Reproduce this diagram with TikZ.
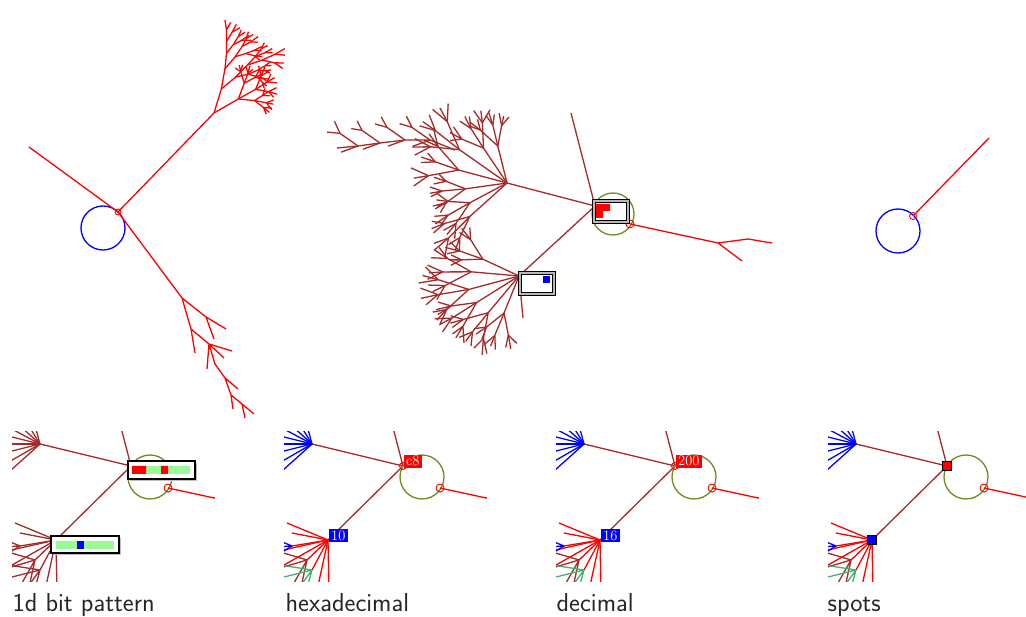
\documentclass[tikz,border=0pt]{standalone}
\usepackage{fontspec}
\definecolor{tbrown}{RGB}{165,42,42}
\definecolor{tgreen}{RGB}{107,142,35}
\definecolor{pgreen}{RGB}{152,251,152}
\definecolor{sgreen}{RGB}{60,179,113}
\def\tAngles{-30,0,30}\def\tR{0.6}\def\tJ{6}
% recursive fractal branch: x y angle length depth
\newcommand\ftree[5]{%
  \pgfmathsetmacro\trX{#1+#4*cos(#3)}%
  \pgfmathsetmacro\trY{#2+#4*sin(#3)}%
  \draw (#1,#2) -- (\trX,\trY);%
  \ifnum#5>0
    \pgfmathsetmacro\trL{#4*\tR}%
    \pgfmathtruncatemacro\trD{#5-1}%
    \foreach \oo in \tAngles {%
      \pgfmathsetmacro\trT{#3+\oo+\tJ*rand}%
      \pgfmathsetmacro\trM{\trL*(1+0.15*rand)}%
      \edef\trNext{\noexpand\ftree{\trX}{\trY}{\trT}{\trM}{\trD}}%
      \trNext}%
  \fi}
% bottom panel: shift, fanA colour, fanB colour, sub1, sub2, sub3, extra code
\newcommand\bpanel[7]{%
\begin{scope}[shift={(#1,0)}]
  \coordinate (H) at (403,466);
  \coordinate (A) at (312,444);
  \coordinate (B) at (328,540);
  \coordinate (Htop) at (390,416);
  \coordinate (R) at (440,488);
  \coordinate (Rend) at (500,501);
  \begin{scope}
    \clip (284,432) rectangle (487,581);
    \draw[tbrown] (H) -- (Htop);
    \draw[tbrown] (H) -- (A);
    \draw[tbrown] (H) -- (B);
    \draw[tgreen] (422,477) circle[radius=22];
    \draw[red] (R) -- (Rend);
    \foreach \a in {138,150,166,180,194,208,222,238,255} \draw[#2] (A) -- ++(\a:75);
    \foreach \p in {(287,523),(292,533),(292,546),(270,553),(270,573),(307,560),(312,570),(316,595),(329,595)} \draw[#3] (B) -- \p;
    \draw[#4] (292,546) -- (275,539) (292,546) -- (275,547) (292,546) -- (276,556);
    \draw[#5] (307,560) -- (280,552) (307,560) -- (280,568) (307,560) -- (290,590) (307,560) -- (300,592);
    \draw[#6] (312,570) -- (280,565) (312,570) -- (280,578) (312,570) -- (296,592) (312,570) -- (306,592);
  \end{scope}
  \draw[red, line width=0.9pt] (R) circle[radius=4];
  #7
\end{scope}}
\tikzset{
  numlab/.style={fill=#1, text=white, font=\fontsize{14.5}{14.5}\selectfont\rmfamily,
    inner xsep=2.5pt, inner ysep=1.5pt, anchor=base west},
  caption/.style={anchor=base west, inner sep=0pt, text=black!85,
    font=\fontsize{26}{26}\selectfont\sffamily},
  spot/.style={draw=black, fill=#1, minimum size=9pt, inner sep=0pt, line width=0.9pt}
}
\begin{document}
\begin{tikzpicture}[x=1pt,y=-1pt,line width=1.3pt]
\useasboundingbox (0,0) rectangle (1026,617);
\pgfmathsetseed{7}
% ---------------- panel 1 ----------------
\coordinate (h1) at (118,212);
\coordinate (l1) at (29,147);
\coordinate (t1) at (214,113);
\coordinate (d1) at (182,298);
\draw[blue] (103,228) circle[radius=22];
\draw[red] (h1) -- (l1);
\draw[red] (h1) -- (t1);
\draw[red] (h1) -- (d1);
\begin{scope}[red]
  \def\tAngles{-6,28}\def\tR{0.8}\def\tJ{6}
  \ftree{214}{113}{287}{25}{5}
  \def\tAngles{-35,0,35}\def\tR{0.65}
  \ftree{214}{113}{330}{28}{3}
\end{scope}
\draw[red] (d1) -- (206,317) -- (226,329) (206,317) -- (214,339)
  (d1) -- (191,329) -- (195,353) (191,329) -- (209,344) -- (232,351)
  (209,344) -- (224,358) (209,344) -- (207,369)
  (209,344) -- (215,364) -- (225,378) -- (238,389)
  (225,378) -- (231,395) -- (233,409)
  (231,395) -- (242,404) -- (254,414) (242,404) -- (245,418);
\draw[red, line width=0.9pt] (h1) circle[radius=3];
% ---------------- panel 2 ----------------
\coordinate (P) at (595,206);
\coordinate (PA) at (507,183);
\coordinate (PB) at (519,276);
\coordinate (Ptop) at (571,113);
\coordinate (PR) at (630,224);
\coordinate (PR1) at (718,243);
\coordinate (PR2) at (748,239);
\draw[tgreen] (613,214) circle[radius=21];
\draw[tbrown] (P) -- (Ptop);
\draw[tbrown] (P) -- (PA);
\draw[tbrown] (P) -- (PB);
\begin{scope}[tbrown]
  \def\tAngles{-28,0,28}\def\tR{0.55}\def\tJ{7}
  \foreach \ang/\len in {256/38,236/42,215/58,195/50,172/42,152/42,138/50}{\ftree{507}{183}{\ang}{\len}{2}}
  \foreach \ang/\len in {205/40,185/48,165/52,148/50,130/48,112/40}{\ftree{519}{276}{\ang}{\len}{2}}
  \draw (519,276) -- (523,318);
  \draw (455,150) -- (430,140) -- (405,140) -- (380,143) -- (358,146) -- (337,148);
  \def\tAngles{-25,25}
  \foreach \x/\y in {430/140,405/140,380/143,358/146}{
    \ftree{\x}{\y}{215}{22}{1}
    \ftree{\x}{\y}{160}{18}{0}}
\end{scope}
\draw[red] (PR) -- (PR1) -- (PR2) -- (772,243);
\draw[red] (PR1) -- (742,261);
\draw[red, line width=0.9pt] (PR) circle[radius=4];
\draw[fill=gray!55, line width=0.9pt] (592,199) rectangle (629,223);
\draw[fill=white, line width=0.9pt] (595,202) rectangle (626,220);
\fill[red] (596,204) rectangle (610,211) (596,211) rectangle (603,218);
\draw[fill=gray!55, line width=0.9pt] (518,271) rectangle (555,295);
\draw[fill=white, line width=0.9pt] (521,274) rectangle (552,292);
\fill[blue] (543,276) rectangle (550,283);
% ---------------- panel 3 ----------------
\coordinate (h3) at (913,216);
\coordinate (e3) at (989,138);
\draw[blue] (898,231) circle[radius=22];
\draw[red] (h3) -- (e3);
\draw[red, line width=0.9pt] (h3) circle[radius=3.5];
% ---------------- bottom panels ----------------
\bpanel{-272}{tbrown}{tbrown}{tbrown}{tbrown}{tbrown}{%
  \fill[gray!50] (402,463) rectangle (469,481);
  \draw[fill=white, line width=1.1pt] (400,461) rectangle (467,479);
  \fill[pgreen] (404,466) rectangle (462,474);
  \fill[red] (404,466) rectangle (418,474) (433,466) rectangle (440,474);
  \fill[gray!50] (325,538) rectangle (393,555);
  \draw[fill=white, line width=1.1pt] (323,536) rectangle (391,553);
  \fill[pgreen] (328,541) rectangle (386,549);
  \fill[blue] (349,541) rectangle (356,549);}
\bpanel{0}{blue}{red}{blue}{tbrown}{sgreen}{%
  \node[numlab=red] (c1) at (H) {c8};
  \node[numlab=blue] (c2) at (B) {10};
  \draw[red, line width=0.9pt] (H) circle[radius=3.5];}
\bpanel{272}{blue}{red}{blue}{tbrown}{sgreen}{%
  \node[numlab=red] (d1) at (H) {200};
  \node[numlab=blue] (d2) at (B) {16};
  \draw[red, line width=0.9pt] (H) circle[radius=3.5];}
\bpanel{544}{blue}{red}{blue}{tbrown}{sgreen}{%
  \node[spot=red] (s1) at (H) {};
  \node[spot=blue] (s2) at (B) {};}
% captions
\node[caption] (cap1) at (12,611) {1d bit pattern};
\node[caption] (cap2) at (285,611) {hexadecimal};
\node[caption] (cap3) at (556,611) {decimal};
\node[caption] (cap4) at (827,611) {spots};
\end{tikzpicture}
\end{document}
